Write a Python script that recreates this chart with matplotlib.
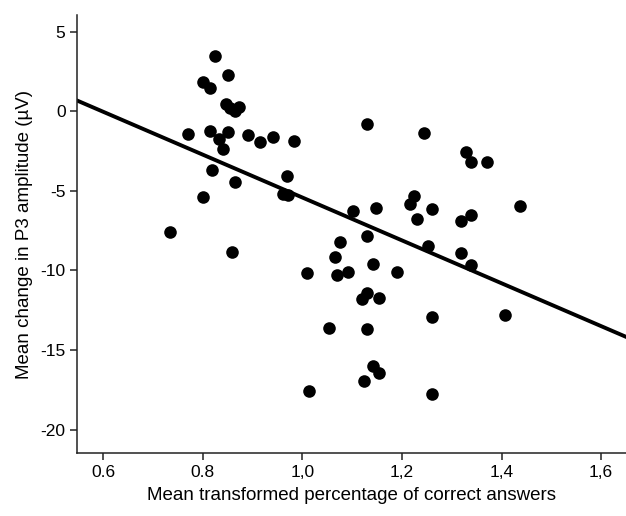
import matplotlib
matplotlib.use("Agg")
import matplotlib.pyplot as plt
import numpy as np

plt.rcParams['font.family'] = ['Liberation Sans', 'DejaVu Sans']
plt.rcParams['axes.unicode_minus'] = False

# points
x = [0.825, 0.850, 0.801, 0.815, 0.847, 0.855, 0.865, 0.873, 0.771, 0.815,
     0.850, 0.833, 0.841, 0.890, 0.914, 0.942, 0.984, 0.819, 0.865, 0.970,
     0.801, 0.962, 0.972, 0.734, 0.859, 1.009, 1.130, 1.245, 1.328, 1.338,
     1.370, 1.224, 1.217, 1.261, 1.231, 1.102, 1.148, 1.437, 1.338, 1.319,
     1.130, 1.075, 1.065, 1.253, 1.319, 1.338, 1.141, 1.070, 1.092, 1.190,
     1.130, 1.119, 1.154, 1.054, 1.130, 1.261, 1.406, 1.142, 1.154, 1.124,
     1.013, 1.261]
y = [3.49, 2.31, 1.87, 1.46, 0.47, 0.20, 0.05, 0.30, -1.42, -1.21,
     -1.27, -1.73, -2.36, -1.48, -1.94, -1.58, -1.86, -3.68, -4.42, -4.04,
     -5.40, -5.19, -5.25, -7.56, -8.86, -10.18, -0.81, -1.33, -2.57, -3.19,
     -3.18, -5.30, -5.84, -6.15, -6.78, -6.26, -6.09, -5.92, -6.53, -6.87,
     -7.81, -8.23, -9.17, -8.44, -8.88, -9.64, -9.59, -10.26, -10.09, -10.09,
     -11.40, -11.79, -11.76, -13.60, -13.68, -12.91, -12.80, -15.99, -16.43, -16.95,
     -17.56, -17.77]

# regression line as drawn
fit_slope = -13.48
fit_intercept = 8.07

xticks = [0.6, 0.8, 1.0, 1.2, 1.4, 1.6]
xtick_labels = ['0.6', '0.8', '1,0', '1,2', '1,4', '1,6']
yticks = [5, 0, -5, -10, -15, -20]

fig = plt.figure(figsize=(6.26, 5.16), dpi=100)
ax = fig.add_axes([0.1235, 0.122, 0.8765, 0.849])

xmin, xmax = 0.548, 1.65
ax.scatter(x, y, s=82, color='black', zorder=3, linewidths=0)
xl = np.array([xmin, xmax])
ax.plot(xl, fit_slope * xl + fit_intercept, color='black', lw=2.8, zorder=2)

ax.set_xlim(xmin, xmax)
ax.set_ylim(-21.48, 6.07)
ax.set_xticks(xticks)
ax.set_xticklabels(xtick_labels)
ax.set_yticks(yticks)

ax.spines['top'].set_visible(False)
ax.spines['right'].set_visible(False)
for s in ['left', 'bottom']:
    ax.spines[s].set_linewidth(1.1)
    ax.spines[s].set_color('#222222')
ax.tick_params(direction='out', length=5, width=1.1, labelsize=12.5, colors='#222222', labelcolor='black')

ax.set_xlabel('Mean transformed percentage of correct answers', fontsize=13.5, labelpad=5)
ax.set_ylabel('Mean change in P3 amplitude (µV)', fontsize=13.5, labelpad=5)

fig.savefig('out.png', dpi=100)
